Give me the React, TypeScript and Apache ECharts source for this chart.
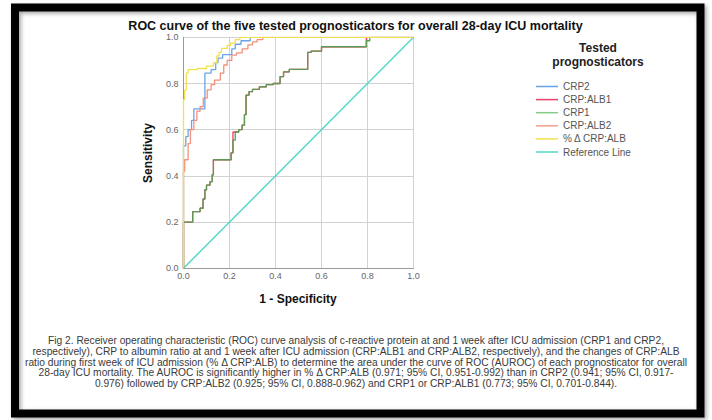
import React, { useEffect, useRef } from 'react';
import * as echarts from 'echarts';

const chartTitle = 'ROC curve of the five tested prognosticators for overall 28-day ICU mortality';
const xAxisName = '1 - Specificity';
const yAxisName = 'Sensitivity';
const legendTitle = ['Tested', 'prognosticators'];
const seriesNames = ['CRP2', 'CRP:ALB1', 'CRP1', 'CRP:ALB2', '% Δ CRP:ALB', 'Reference Line'];
const seriesColors = ['#6aa4e6', '#e8426c', '#5e9a52', '#f4907a', '#f2e24a', '#4fd8c4'];
const legendColors = ['#6aa4e6', '#e8426c', '#86cc86', '#f4a088', '#f2e24a', '#4fd8c4'];

// CRP2 ROC vertices (1 - specificity, sensitivity)
const crp2Fpr = [0, 0, 0.01, 0.01, 0.02, 0.02, 0.035, 0.035, 0.045, 0.045, 0.093, 0.093, 0.12, 0.12, 0.14, 0.14, 0.15, 0.15, 0.17, 0.17, 0.21, 0.21, 0.225, 0.225, 0.25, 0.25, 0.29, 0.29, 1];
const crp2Tpr = [0, 0.53, 0.53, 0.57, 0.57, 0.6, 0.6, 0.64, 0.64, 0.69, 0.69, 0.845, 0.845, 0.86, 0.86, 0.89, 0.89, 0.91, 0.91, 0.925, 0.925, 0.95, 0.95, 0.97, 0.97, 0.985, 0.985, 1, 1];

// CRP:ALB1
const crpAlb1Fpr = [0, 0, 0.04, 0.04, 0.072, 0.072, 0.085, 0.085, 0.093, 0.093, 0.1, 0.1, 0.115, 0.115, 0.125, 0.125, 0.13, 0.13, 0.207, 0.207, 0.215, 0.215, 0.24, 0.24, 0.255, 0.255, 0.265, 0.265, 0.272, 0.272, 0.285, 0.285, 0.3, 0.3, 0.33, 0.33, 0.36, 0.36, 0.39, 0.39, 0.42, 0.42, 0.435, 0.435, 0.46, 0.46, 0.54, 0.54, 0.555, 0.555, 0.6, 0.6, 0.795, 0.795, 1];
const crpAlb1Tpr = [0, 0.2, 0.2, 0.245, 0.245, 0.26, 0.26, 0.3, 0.3, 0.34, 0.34, 0.36, 0.36, 0.375, 0.375, 0.405, 0.405, 0.47, 0.47, 0.5, 0.5, 0.59, 0.59, 0.6, 0.6, 0.62, 0.62, 0.665, 0.665, 0.75, 0.75, 0.765, 0.765, 0.775, 0.775, 0.786, 0.786, 0.795, 0.795, 0.8, 0.8, 0.83, 0.83, 0.85, 0.85, 0.861, 0.861, 0.935, 0.935, 0.94, 0.94, 0.959, 0.959, 1, 1];

// CRP1
const crp1Fpr = [0, 0, 0.04, 0.04, 0.072, 0.072, 0.085, 0.085, 0.093, 0.093, 0.1, 0.1, 0.115, 0.115, 0.125, 0.125, 0.13, 0.13, 0.207, 0.207, 0.215, 0.215, 0.225, 0.225, 0.24, 0.24, 0.255, 0.255, 0.265, 0.265, 0.272, 0.272, 0.285, 0.285, 0.3, 0.3, 0.33, 0.33, 0.36, 0.36, 0.39, 0.39, 0.42, 0.42, 0.435, 0.435, 0.46, 0.46, 0.54, 0.54, 0.555, 0.555, 0.6, 0.6, 0.795, 0.795, 0.81, 0.81, 1];
const crp1Tpr = [0, 0.2, 0.2, 0.245, 0.245, 0.26, 0.26, 0.3, 0.3, 0.34, 0.34, 0.36, 0.36, 0.375, 0.375, 0.405, 0.405, 0.47, 0.47, 0.5, 0.5, 0.555, 0.555, 0.59, 0.59, 0.6, 0.6, 0.62, 0.62, 0.665, 0.665, 0.75, 0.75, 0.765, 0.765, 0.775, 0.775, 0.786, 0.786, 0.795, 0.795, 0.8, 0.8, 0.83, 0.83, 0.85, 0.85, 0.861, 0.861, 0.935, 0.935, 0.94, 0.94, 0.959, 0.959, 0.985, 0.985, 1, 1];

// CRP:ALB2
const crpAlb2Fpr = [0, 0, 0.005, 0.005, 0.02, 0.02, 0.03, 0.03, 0.045, 0.045, 0.058, 0.058, 0.072, 0.072, 0.086, 0.086, 0.103, 0.103, 0.12, 0.12, 0.135, 0.135, 0.16, 0.16, 0.175, 0.175, 0.19, 0.19, 0.21, 0.21, 0.23, 0.23, 0.255, 0.255, 0.28, 0.28, 0.3, 0.3, 0.32, 0.32, 0.345, 0.345, 1];
const crpAlb2Tpr = [0, 0.42, 0.42, 0.47, 0.47, 0.54, 0.54, 0.6, 0.6, 0.64, 0.64, 0.68, 0.68, 0.7, 0.7, 0.737, 0.737, 0.772, 0.772, 0.795, 0.795, 0.815, 0.815, 0.845, 0.845, 0.88, 0.88, 0.9, 0.9, 0.923, 0.923, 0.933, 0.933, 0.95, 0.95, 0.967, 0.967, 0.98, 0.98, 0.99, 0.99, 1, 1];

// % Δ CRP:ALB
const deltaFpr = [0, 0, 0.005, 0.005, 0.012, 0.012, 0.02, 0.02, 0.06, 0.06, 0.1, 0.1, 0.13, 0.13, 0.145, 0.145, 0.155, 0.155, 0.165, 0.165, 0.19, 0.19, 0.205, 0.205, 0.225, 0.225, 0.245, 0.245, 1];
const deltaTpr = [0, 0.73, 0.73, 0.77, 0.77, 0.845, 0.845, 0.86, 0.86, 0.865, 0.865, 0.875, 0.875, 0.89, 0.89, 0.92, 0.92, 0.935, 0.935, 0.952, 0.952, 0.965, 0.965, 0.975, 0.975, 0.99, 0.99, 1, 1];

// Reference line
const refFpr = [0, 1];
const refTpr = [0, 1];

const axisMin = 0;
const axisMax = 1;
const axisStep = 0.2;

const captionLines = [
  'Fig 2. Receiver operating characteristic (ROC) curve analysis of c-reactive protein at and 1 week after ICU admission (CRP1 and CRP2,',
  'respectively), CRP to albumin ratio at and 1 week after ICU admission (CRP:ALB1 and CRP:ALB2, respectively), and the changes of CRP:ALB',
  'ratio during first week of ICU admission (% Δ CRP:ALB) to determine the area under the curve of ROC (AUROC) of each prognosticator for overall',
  '28-day ICU mortality. The AUROC is significantly higher in % Δ CRP:ALB (0.971; 95% CI, 0.951-0.992) than in CRP2 (0.941; 95% CI, 0.917-',
  '0.976) followed by CRP:ALB2 (0.925; 95% CI, 0.888-0.962) and CRP1 or CRP:ALB1 (0.773; 95% CI, 0.701-0.844).',
];

const seriesFpr = [crp2Fpr, crpAlb1Fpr, crp1Fpr, crpAlb2Fpr, deltaFpr, refFpr];
const seriesTpr = [crp2Tpr, crpAlb1Tpr, crp1Tpr, crpAlb2Tpr, deltaTpr, refTpr];

const FONT = '"Liberation Sans", Arial, Helvetica, sans-serif';

export default function App() {
  const ref = useRef<HTMLDivElement>(null);
  useEffect(() => {
    const el = ref.current;
    if (!el) return;
    const chart = echarts.init(el, null, { renderer: 'svg' });

    let capScale = 0.94;
    try {
      const ctx = document.createElement('canvas').getContext('2d');
      if (ctx) {
        ctx.font = '10px ' + FONT;
        const w = ctx.measureText(captionLines[2]).width;
        if (w > 0) capScale = 664 / w;
      }
    } catch (e) {}

    const series: any[] = seriesNames.map((name, i) => ({
      name,
      type: 'line',
      data: seriesFpr[i].map((x, j) => [x, seriesTpr[i][j]]),
      showSymbol: false,
      symbol: 'none',
      silent: true,
      lineStyle: { color: seriesColors[i], width: i === 5 ? 1.4 : 1.3 },
      itemStyle: { color: seriesColors[i] },
      z: i === 2 ? 4 : i === 4 ? 5 : 3,
    }));

    const captionY0 = 341;
    const captionStep = 10.55;

    const graphics: any[] = [
      {
        type: 'rect',
        shape: { x: 15, y: 7.5, width: 685.5, height: 406 },
        style: { fill: 'none', stroke: '#000', lineWidth: 8, shadowBlur: 4, shadowOffsetX: 2, shadowOffsetY: 2, shadowColor: 'rgba(0,0,0,0.35)' },
        silent: true,
      },
      {
        type: 'text', x: 355.5, y: 26,
        style: { text: chartTitle, font: 'bold 12.5px ' + FONT, fill: '#111', textAlign: 'center', textVerticalAlign: 'middle' },
      },
      {
        type: 'text', x: 148, y: 153, rotation: Math.PI / 2,
        style: { text: yAxisName, font: 'bold 12px ' + FONT, fill: '#111', textAlign: 'center', textVerticalAlign: 'middle' },
      },
      {
        type: 'text', x: 298, y: 299,
        style: { text: xAxisName, font: 'bold 12px ' + FONT, fill: '#111', textAlign: 'center', textVerticalAlign: 'middle' },
      },
      ...legendTitle.map((t, i) => ({
        type: 'text', x: 598, y: 48 + i * 14,
        style: { text: t, font: 'bold 12px ' + FONT, fill: '#222', textAlign: 'center', textVerticalAlign: 'middle' },
      })),
      ...captionLines.map((t, i) => ({
        type: 'text', x: 356, y: captionY0 + i * captionStep, scaleX: capScale,
        style: { text: t, font: '10px ' + FONT, fill: '#3a3a3a', textAlign: 'center', textVerticalAlign: 'middle' },
      })),
    ];

    const valueAxis = (labelMargin: number) => ({
      type: 'value',
      min: axisMin,
      max: axisMax,
      interval: axisStep,
      axisLine: { show: true, lineStyle: { color: '#9a9a9a', width: 1 } },
      axisTick: { show: false },
      axisLabel: {
        formatter: (v: number) => v.toFixed(1),
        fontSize: 9,
        color: '#666',
        fontFamily: FONT,
        margin: labelMargin,
      },
      splitLine: { show: true, lineStyle: { color: '#d2d2d2', width: 1 } },
    });

    chart.setOption({
      animation: false,
      backgroundColor: '#fff',
      grid: { left: 183.5, right: 298.5, top: 37.3, bottom: 151.7, containLabel: false },
      xAxis: valueAxis(3),
      yAxis: valueAxis(5),
      legend: {
        orient: 'vertical',
        left: 531,
        top: 75.5,
        icon: 'rect',
        itemWidth: 22,
        itemHeight: 1.5,
        itemGap: 1.1,
        selectedMode: false,
        textStyle: { fontSize: 10, color: '#555', fontFamily: FONT, lineHeight: 12 },
        data: seriesNames.map((n, i) => ({ name: n, itemStyle: { color: legendColors[i] } })),
      },
      series,
      graphic: { elements: graphics },
    });

    return () => chart.dispose();
  }, []);
  return (
    <div
      ref={ref}
      style={{ position: 'fixed', left: 0, top: 0, width: 712, height: 420, background: '#fff' }}
    />
  );
}
